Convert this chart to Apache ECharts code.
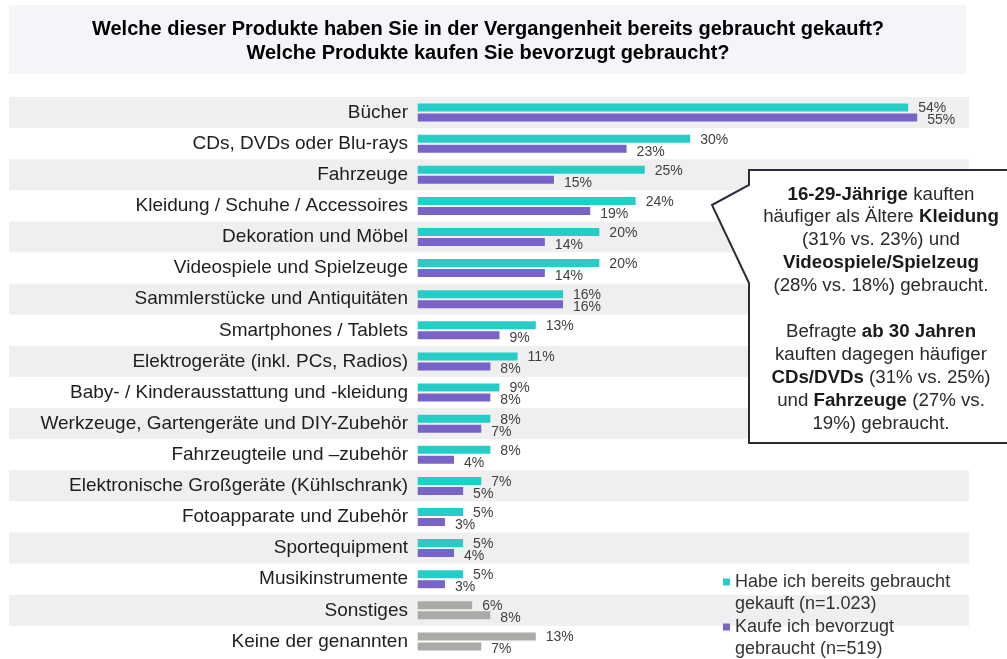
<!DOCTYPE html>
<html>
<head>
<meta charset="utf-8">
<script src="https://cdn.jsdelivr.net/npm/echarts@6/dist/echarts.min.js"></script>
<style>
  html, body { margin: 0; padding: 0; background: #fff; }
  #main { width: 1007px; height: 659px; }
</style>
</head>
<body>
<div id="main"></div>
<script>
var categories = ['Bücher', 'CDs, DVDs oder Blu-rays', 'Fahrzeuge', 'Kleidung / Schuhe / Accessoires',
  'Dekoration und Möbel', 'Videospiele und Spielzeuge', 'Sammlerstücke und Antiquitäten',
  'Smartphones / Tablets', 'Elektrogeräte (inkl. PCs, Radios)', 'Baby- / Kinderausstattung und -kleidung',
  'Werkzeuge, Gartengeräte und DIY-Zubehör', 'Fahrzeugteile und –zubehör',
  'Elektronische Großgeräte (Kühlschrank)', 'Fotoapparate und Zubehör', 'Sportequipment',
  'Musikinstrumente', 'Sonstiges', 'Keine der genannten'];
var bereitsGekauft = [54, 30, 25, 24, 20, 20, 16, 13, 11, 9, 8, 8, 7, 5, 5, 5, 6, 13];
var bevorzugt = [55, 23, 15, 19, 14, 14, 16, 9, 8, 8, 7, 4, 5, 3, 4, 3, 8, 7];
var grayCategories = ['Sonstiges', 'Keine der genannten'];
var seriesNames = ['Habe ich bereits gebraucht gekauft (n=1.023)', 'Kaufe ich bevorzugt gebraucht (n=519)'];
var legendLines = {
  'Habe ich bereits gebraucht gekauft (n=1.023)': 'Habe ich bereits gebraucht\ngekauft (n=1.023)',
  'Kaufe ich bevorzugt gebraucht (n=519)': 'Kaufe ich bevorzugt\ngebraucht (n=519)'
};
var titleLines = ['Welche dieser Produkte haben Sie in der Vergangenheit bereits gebraucht gekauft?',
  'Welche Produkte kaufen Sie bevorzugt gebraucht?'];
var calloutLines = [
  '{b|16-29-Jährige} kauften',
  'häufiger als Ältere {b|Kleidung}',
  '(31% vs. 23%) und',
  '{b|Videospiele/Spielzeug}',
  '(28% vs. 18%) gebraucht.',
  '',
  'Befragte {b|ab 30 Jahren}',
  'kauften dagegen häufiger',
  '{b|CDs/DVDs} (31% vs. 25%)',
  'und {b|Fahrzeuge} (27% vs.',
  '19%) gebraucht.'
];

var TEAL = '#24cdc6';
var PURPLE = '#7963c8';
var GRAY = '#a9aba7';
var FONT = '"Liberation Sans", Arial, sans-serif';

function withGray(values) {
  return values.map(function (v, i) {
    if (grayCategories.indexOf(categories[i]) >= 0) {
      return { value: v, itemStyle: { color: GRAY } };
    }
    return v;
  });
}

var myChart = echarts.init(document.getElementById('main'));

// square sits on the first text line of the two-line legend entry
var legendIcon = 'path://M0,0L0,0M0,7.5L7,7.5L7,14.5L0,14.5ZM0,44L0,44';

var option = {
  animation: false,
  textStyle: { fontFamily: FONT },
  grid: { left: 9, right: 38, top: 97, bottom: 2, containLabel: false, outerBoundsMode: 'none' },
  legend: {
    data: seriesNames,
    orient: 'vertical',
    left: 723,
    top: 571,
    height: 120,
    padding: 0,
    itemGap: 1,
    icon: legendIcon,
    itemWidth: 7,
    itemHeight: 44,
    selectedMode: false,
    formatter: function (name) { return legendLines[name]; },
    textStyle: { fontFamily: FONT, fontSize: 18, color: '#333', lineHeight: 22 }
  },
  xAxis: {
    type: 'value',
    min: -45,
    max: 60.7,
    show: false,
    splitLine: { show: false }
  },
  yAxis: {
    type: 'category',
    inverse: true,
    data: categories,
    offset: -408,
    axisLine: { show: false },
    axisTick: { show: false },
    axisLabel: { fontFamily: FONT, fontSize: 19, color: '#1e1e1e', margin: 9 },
    splitArea: { show: true, areaStyle: { color: ['#efefef', '#ffffff'] } }
  },
  series: [
    {
      name: seriesNames[0],
      type: 'bar',
      color: TEAL,
      barWidth: 8,
      barGap: '25%',
      data: withGray(bereitsGekauft),
      label: {
        show: true, position: 'right', distance: 10, offset: [0, 1],
        formatter: '{c}%', fontFamily: FONT, fontSize: 14, color: '#404040'
      }
    },
    {
      name: seriesNames[1],
      type: 'bar',
      color: PURPLE,
      barWidth: 8,
      data: withGray(bevorzugt),
      label: {
        show: true, position: 'right', distance: 10, offset: [0, 3],
        formatter: '{c}%', fontFamily: FONT, fontSize: 14, color: '#404040'
      }
    }
  ],
  graphic: [
    {
      type: 'rect', z: -1,
      shape: { x: 9, y: 5, width: 957, height: 69 },
      style: { fill: '#f4f4f9' }
    },
    {
      type: 'text',
      style: {
        x: 488, y: 17, text: titleLines.join('\n'), align: 'center', verticalAlign: 'top',
        fontFamily: FONT, fontWeight: 'bold', fontSize: 20, lineHeight: 24, fill: '#000'
      }
    },
    {
      type: 'polygon', z: 10,
      shape: { points: [[749, 170], [1010, 170], [1010, 443], [749, 443], [749, 283], [712, 205], [749, 185]] },
      style: { fill: '#fff', stroke: '#2b2b38', lineWidth: 2 }
    },
    {
      type: 'text', z: 11,
      style: {
        x: 881, y: 183, text: calloutLines.join('\n'), align: 'center', verticalAlign: 'top',
        fontFamily: FONT, fontSize: 18.7, lineHeight: 22.9, fill: '#2a2a2a',
        rich: { b: { fontFamily: FONT, fontSize: 18.7, fontWeight: 'bold', lineHeight: 22.9, fill: '#1a1a1a' } }
      }
    }
  ]
};

myChart.setOption(option);
</script>
</body>
</html>
